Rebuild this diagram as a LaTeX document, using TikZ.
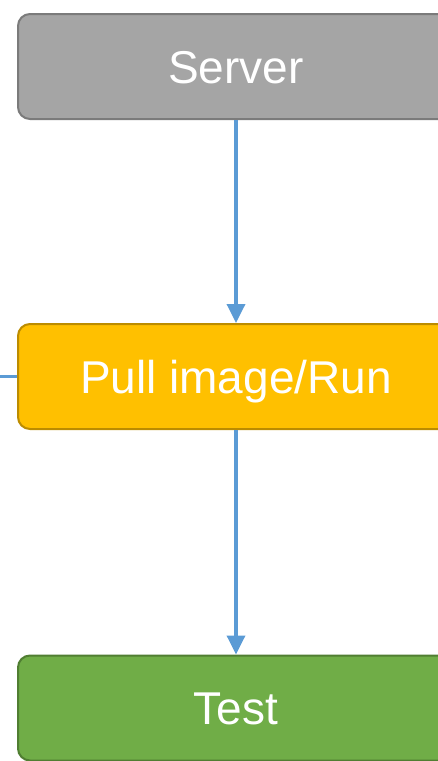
\documentclass[tikz,border=0pt]{standalone}
\usepackage{fontspec}
\setmainfont{Liberation Sans}
\usetikzlibrary{arrows.meta}
\definecolor{srvfill}{HTML}{A5A5A5}
\definecolor{srvline}{HTML}{7B7B7B}
\definecolor{runfill}{HTML}{FFC000}
\definecolor{runline}{HTML}{BC8C00}
\definecolor{tstfill}{HTML}{70AD47}
\definecolor{tstline}{HTML}{507E32}
\definecolor{flow}{HTML}{5B9BD5}
\begin{document}
\begin{tikzpicture}[x=1pt, y=-1pt,
    stage/.style={rounded corners=12pt, line width=2pt, minimum width=436pt,
      minimum height=105pt, inner sep=0pt, text=white, text height=38pt,
      text depth=5pt, font=\fontsize{46}{55}\selectfont},
    flowline/.style={flow, line width=3.5pt, -{Triangle[width=18pt,length=19pt]}}]
    \useasboundingbox (0,0) rectangle (438,761);
    \node[stage, fill=srvfill, draw=srvline] (server) at (236, 66.5) {Server};
    \node[stage, fill=runfill, draw=runline] (pull) at (236, 376.5) {Pull image/Run};
    \node[stage, fill=tstfill, draw=tstline] (test) at (236, 708) {Test};
    \coordinate (left) at (-5, 376.5);
    \draw[flowline] (server) -- (pull);
    \draw[flowline] (pull) -- (test);
    \draw[flow, line width=3.5pt] (left) -- (pull.west);
  \end{tikzpicture}
\end{document}
